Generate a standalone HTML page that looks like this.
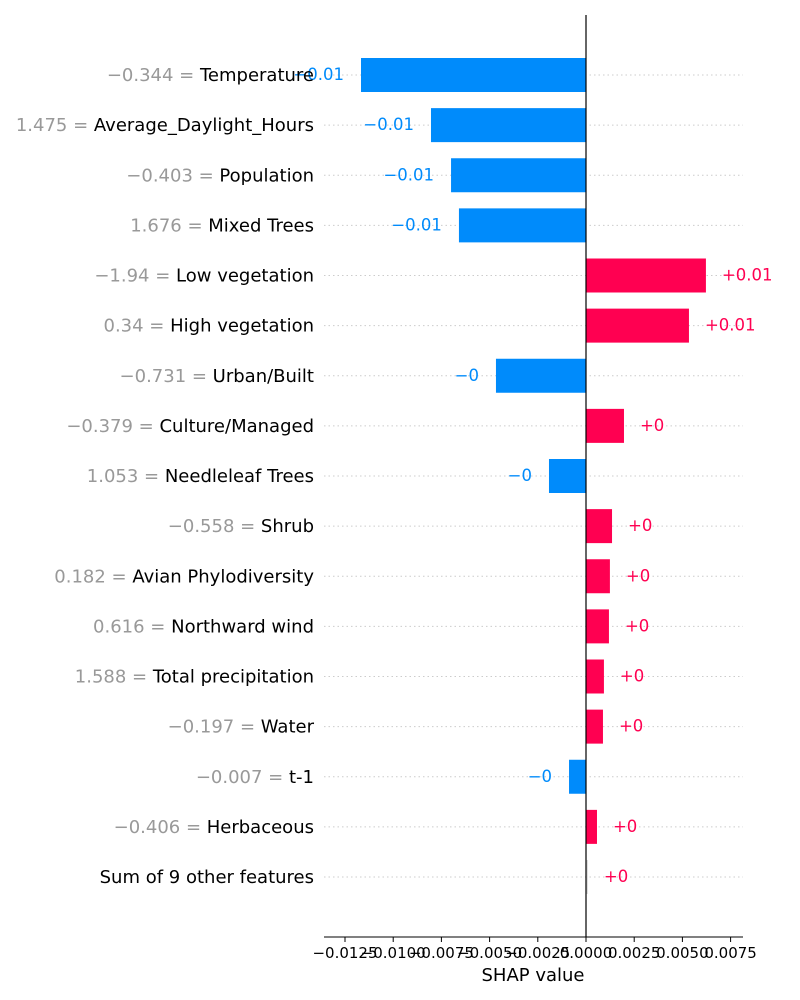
<!DOCTYPE html>
<html><head><meta charset="utf-8"><style>
body{margin:0;background:#fff;}
svg{display:block;font-family:"DejaVu Sans","Liberation Sans",sans-serif;}
</style></head><body>
<svg id="chart" width="800" height="1000" viewBox="0 0 800 1000"></svg>
<script>
const featureValues = ["\u22120.344","1.475","\u22120.403","1.676","\u22121.94","0.34","\u22120.731","\u22120.379","1.053","\u22120.558","0.182","0.616","1.588","\u22120.197","\u22120.007","\u22120.406",""];
const featureNames = ["Temperature","Average_Daylight_Hours","Population","Mixed Trees","Low vegetation","High vegetation","Urban/Built","Culture/Managed","Needleleaf Trees","Shrub","Avian Phylodiversity","Northward wind","Total precipitation","Water","t-1","Herbaceous","Sum of 9 other features"];
const shapValues = [-0.01167,-0.00804,-0.0070,-0.00659,0.00622,0.00534,-0.00467,0.00197,-0.00192,0.00135,0.00124,0.00119,0.00093,0.00088,-0.00088,0.00057,0.0001];
const valueLabels = ["\u22120.01","\u22120.01","\u22120.01","\u22120.01","+0.01","+0.01","\u22120","+0","\u22120","+0","+0","+0","+0","+0","\u22120","+0","+0"];
const tickValues = [-0.0125,-0.01,-0.0075,-0.005,-0.0025,0,0.0025,0.005,0.0075];
const tickLabels = ["\u22120.0125","\u22120.0100","\u22120.0075","\u22120.0050","\u22120.0025","0.0000","0.0025","0.0050","0.0075"];

const svg = document.getElementById('chart');
const NS = 'http://www.w3.org/2000/svg';
const x = v => 586 + v * 19280;
const y = i => 75 + i * 50.125;
function mk(tag, attrs, text){
  const e = document.createElementNS(NS, tag);
  for (const k in attrs) e.setAttribute(k, attrs[k]);
  if (text !== undefined) e.textContent = text;
  svg.appendChild(e);
  return e;
}
featureNames.forEach((n,i)=>{
  const g = mk('line',{x1:324,x2:743,y1:y(i),y2:y(i),stroke:'#ccc','stroke-dasharray':'1.5,3','stroke-width':1});
  
  
});
shapValues.forEach((v,i)=>{
  const pos = v >= 0;
  const last = i === shapValues.length-1;
  const color = last ? '#ddd' : (pos ? '#ff0051' : '#008bfb');
  const x0 = Math.min(x(0), x(v)), w = Math.max(Math.abs(x(v)-x(0)),1);
  const r = mk('rect',{x:x0,y:y(i)-17,width:w,height:34,fill:color});
  
  
  const tc = pos ? '#ff0051' : '#008bfb';
  const t = mk('text',{x: pos ? x(v)+16 : x(v)-17, y:y(i)+5,'font-size':16.5,fill:tc,'text-anchor': pos?'start':'end'}, valueLabels[i]);
  
  
  const lab = mk('text',{x:314,y:y(i)+6,'font-size':18,'text-anchor':'end'});
  
  
  if (featureValues[i]) {
    const s1 = document.createElementNS(NS,'tspan');
    s1.setAttribute('fill','#999');
    s1.textContent = featureValues[i] + ' = ';
    lab.appendChild(s1);
  }
  const s2 = document.createElementNS(NS,'tspan');
  s2.setAttribute('fill','#000');
  s2.textContent = featureNames[i];
  lab.appendChild(s2);
});
const z = mk('line',{x1:x(0),x2:x(0),y1:15,y2:937,stroke:'#000','stroke-width':1.2});


const ax = mk('line',{x1:324,x2:743,y1:937,y2:937,stroke:'#000','stroke-width':1});


tickValues.forEach((v,i)=>{
  const tk = mk('line',{x1:x(v),x2:x(v),y1:937,y2:942,stroke:'#000'});
  
  
  const tl = mk('text',{x:x(v),y:958,'font-size':15,'text-anchor':'middle',fill:'#000'}, tickLabels[i]);
  
  
});
const xt = mk('text',{x:533,y:981,'font-size':18,'text-anchor':'middle',fill:'#000'},'SHAP value');


</script>
</body></html>
